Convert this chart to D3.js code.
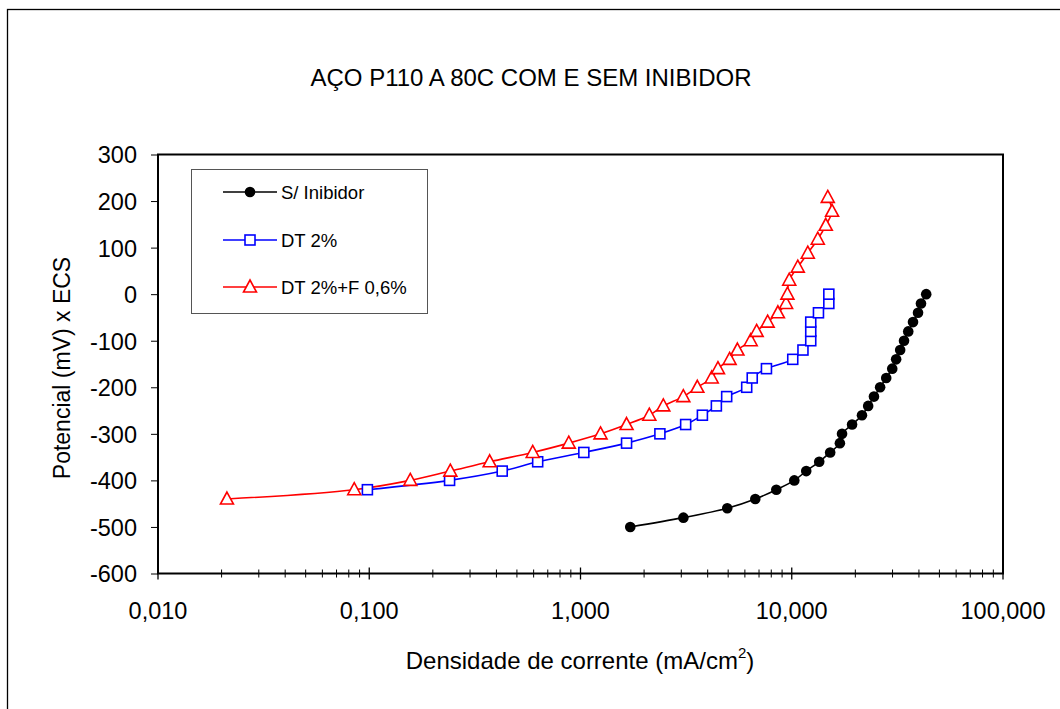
<!DOCTYPE html>
<html><head><meta charset="utf-8">
<script src="https://cdn.jsdelivr.net/npm/d3@7"></script>
<style>body{margin:0;background:#fff}svg{display:block}text{font-family:"Liberation Sans",Arial,sans-serif;fill:#000}</style>
</head><body><svg id="c" width="1060" height="709"></svg>
<script>
const title = "AÇO P110 A 80C COM E SEM INIBIDOR";
const xLabel = "Densidade de corrente (mA/cm";
const yLabel = "Potencial (mV) x ECS";
const seriesNames = ["S/ Inibidor", "DT 2%", "DT 2%+F 0,6%"];
const xTickValues = [0.01, 0.1, 1, 10, 100];
const xTickLabels = ["0,010", "0,100", "1,000", "10,000", "100,000"];
const yTickValues = [-600, -500, -400, -300, -200, -100, 0, 100, 200, 300];

// S/ Inibidor
const semX = [1.72, 3.07, 4.95, 6.72, 8.45, 10.28, 11.71, 13.49, 15.2, 16.9, 17.3, 19.3, 21.5, 23.0, 24.5, 26.2, 28.0, 29.9, 31.2, 32.6, 34.0, 35.6, 37.5, 39.6, 40.9, 43.3];
const semY = [-500, -480, -460, -440, -420, -400, -380, -360, -340, -320, -300, -280, -260, -240, -220, -200, -180, -160, -140, -120, -100, -80, -60, -40, -20, 0];
// DT 2%
const dtX = [0.098, 0.240, 0.426, 0.627, 1.037, 1.652, 2.376, 3.146, 3.776, 4.397, 4.92, 6.12, 6.50, 7.59, 10.11, 11.30, 12.30, 12.30, 12.30, 13.38, 14.98, 14.98];
const dtY = [-420, -400, -380, -360, -340, -320, -300, -280, -260, -240, -220, -200, -180, -160, -140, -120, -100, -80, -60, -40, -20, 0];
// DT 2%+F 0,6%
const dtfX = [0.0212, 0.0849, 0.1564, 0.242, 0.3716, 0.594, 0.880, 1.244, 1.652, 2.117, 2.466, 3.067, 3.573, 4.18, 4.474, 5.08, 5.53, 6.39, 6.82, 7.69, 8.60, 9.40, 9.54, 9.73, 10.68, 11.91, 13.28, 14.49, 15.52, 14.81];
const dtfY = [-440, -420, -400, -380, -360, -340, -320, -300, -280, -260, -240, -220, -200, -180, -160, -140, -120, -100, -80, -60, -40, -20, 0, 30, 58, 88, 118, 148, 178, 208];

const svg = d3.select("#c");
const L = 158, R = 1003, T = 154.5, B = 573.5;
const x = d3.scaleLog().domain([0.01, 100]).range([L, R]);
const y = d3.scaleLinear().domain([-600, 300]).range([B, T]);

// outer frame
svg.append("rect").attr("x", 7.5).attr("y", 9.5).attr("width", 1060).attr("height", 720)
  .attr("fill", "none").attr("stroke", "#000").attr("stroke-width", 1.3);

// title
svg.append("text").attr("x", 531).attr("y", 86).attr("text-anchor", "middle")
  .attr("font-size", 24).text(title);

// plot frame
svg.append("rect").attr("x", L).attr("y", T).attr("width", R - L).attr("height", B - T)
  .attr("fill", "none").attr("stroke", "#000").attr("stroke-width", 2);

// y axis
const yAxis = d3.axisLeft(y).tickValues(yTickValues).tickSize(7).tickFormat(d => String(d));
const gy = svg.append("g").attr("transform", `translate(${L},0)`).call(yAxis);
gy.select(".domain").remove();
gy.selectAll("line").attr("stroke", "#000").attr("stroke-width", 1);
gy.selectAll("text").attr("font-size", 23.5).attr("font-family", "Liberation Sans, Arial, sans-serif")
  .attr("x", -21).attr("dy", "0.36em");

// x axis: major + minor ticks crossing the axis
const minor = [];
for (let e = -2; e < 2; e++) for (let m = 2; m <= 9; m++) minor.push(m * Math.pow(10, e));
const gx = svg.append("g");
gx.selectAll("line.mi").data(minor).join("line")
  .attr("x1", d => x(d)).attr("x2", d => x(d)).attr("y1", B - 4).attr("y2", B + 4)
  .attr("stroke", "#000").attr("stroke-width", 1);
gx.selectAll("line.ma").data(xTickValues).join("line")
  .attr("x1", d => x(d)).attr("x2", d => x(d)).attr("y1", B - 6).attr("y2", B + 6)
  .attr("stroke", "#000").attr("stroke-width", 1.3);
gx.selectAll("text").data(xTickValues).join("text")
  .attr("x", d => x(d)).attr("y", 619).attr("text-anchor", "middle").attr("font-size", 23.5)
  .text((d, i) => xTickLabels[i]);

// axis labels
const xl = svg.append("text").attr("x", 580).attr("y", 669).attr("text-anchor", "middle").attr("font-size", 24);
xl.append("tspan").text(xLabel);
xl.append("tspan").attr("font-size", 15).attr("dy", -11).text("2");
xl.append("tspan").attr("dy", 11).text(")");
svg.append("text").attr("transform", `translate(70,368) rotate(-90)`)
  .attr("text-anchor", "middle").attr("font-size", 23).text(yLabel);

const line = d3.line().x(d => x(d[0])).y(d => y(d[1])).curve(d3.curveCatmullRom.alpha(0.5));
const zip = (a, b) => a.map((v, i) => [v, b[i]]);
const data = [
  {pts: zip(semX, semY), color: "#000000", marker: "circle"},
  {pts: zip(dtX, dtY), color: "#0000FF", marker: "square"},
  {pts: zip(dtfX, dtfY), color: "#FF0000", marker: "triangle"}
];
const tri = (cx, cy) => `M${cx},${cy - 7}L${cx + 6.5},${cy + 5}L${cx - 6.5},${cy + 5}Z`;
function drawMarker(g, kind, color, cx, cy) {
  if (kind === "circle") g.append("circle").attr("cx", cx).attr("cy", cy).attr("r", 5.3).attr("fill", "#000");
  else if (kind === "square") g.append("rect").attr("x", cx - 5).attr("y", cy - 5).attr("width", 10).attr("height", 10)
    .attr("fill", "#fff").attr("stroke", color).attr("stroke-width", 1.6);
  else g.append("path").attr("d", tri(cx, cy)).attr("fill", "#fff").attr("stroke", color).attr("stroke-width", 1.6);
}
data.forEach(s => {
  svg.append("path").datum(s.pts).attr("d", line).attr("fill", "none").attr("stroke", s.color).attr("stroke-width", 1.6);
});
data.forEach(s => {
  const g = svg.append("g");
  s.pts.forEach(p => drawMarker(g, s.marker, s.color, x(p[0]), y(p[1])));
});

// legend
svg.append("rect").attr("x", 191.5).attr("y", 169.5).attr("width", 236).attr("height", 144)
  .attr("fill", "#fff").attr("stroke", "#555").attr("stroke-width", 1);
const rowsY = [192, 240, 287];
data.forEach((s, i) => {
  const g = svg.append("g");
  g.append("line").attr("x1", 223).attr("x2", 277).attr("y1", rowsY[i]).attr("y2", rowsY[i])
    .attr("stroke", s.color).attr("stroke-width", 1.6);
  drawMarker(g, s.marker, s.color, 250, rowsY[i]);
  g.append("text").attr("x", 281).attr("y", rowsY[i] + 7).attr("font-size", 18.5).text(seriesNames[i]);
});
</script></body></html>
